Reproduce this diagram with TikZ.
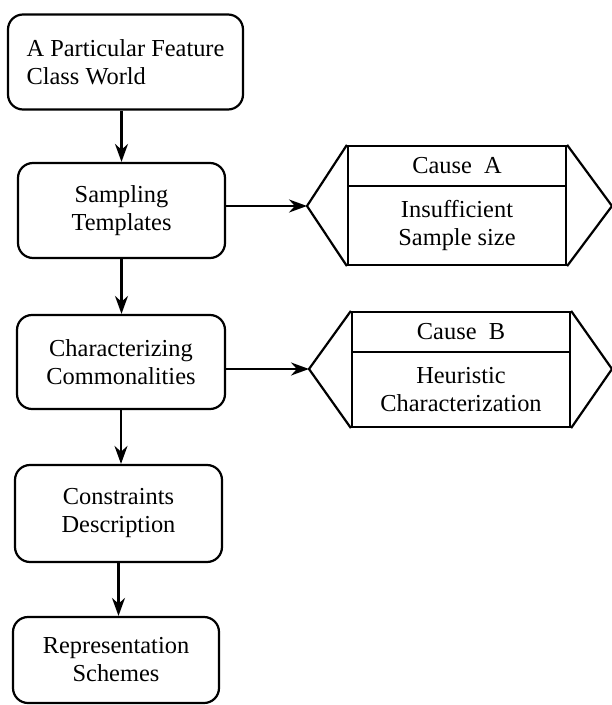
\documentclass[tikz,border=0pt]{standalone}
\usepackage{fontspec}
\setmainfont{Liberation Serif}
\usetikzlibrary{arrows.meta}
\tikzset{
  stepbox/.style={draw, line width=1.1pt, rounded corners=7.5pt, align=center,
    font=\fontsize{12.2}{14}\selectfont},
  causebox/.style={draw, line width=1.1pt, minimum width=109pt, inner sep=0pt,
    align=center, font=\fontsize{12.2}{14}\selectfont},
}
\begin{document}
\begin{tikzpicture}[x=0.5pt, y=-0.5pt]
      \useasboundingbox (0,0) rectangle (611,705);
      \draw
        (125.5,62) node[stepbox, minimum width=117.5pt, minimum height=47.5pt, align=left] (world){A Particular Feature\\Class World}
        (121.5,210.5) node[stepbox, minimum width=103.5pt, minimum height=47.5pt] (sampling){Sampling\\Templates}
        (121,362) node[stepbox, minimum width=104pt, minimum height=47pt] (common){Characterizing\\Commonalities}
        (118.5,513.5) node[stepbox, minimum width=103.5pt, minimum height=48.5pt] (constraints){Constraints\\Description}
        (116,660) node[stepbox, minimum width=103pt, minimum height=43pt] (repr){Representation\\Schemes};
      % cause A
      \draw
        (457,166) node[causebox, minimum height=20pt] (causeA){Cause\ \ A}
        (457,225.5) node[causebox, minimum height=39.5pt] (reasonA){Insufficient\\Sample size};
      \coordinate (tipA) at (307,206);
      \coordinate (endA) at (612,206);
      \draw[line width=1.1pt] (causeA.north west) -- (tipA) -- (reasonA.south west);
      \draw[line width=1.1pt] (causeA.north east) -- (endA) -- (reasonA.south east);
      % cause B
      \draw
        (461,332) node[causebox, minimum height=20pt] (causeB){Cause\ \ B}
        (461,389.5) node[causebox, minimum height=37.5pt] (reasonB){Heuristic\\Characterization};
      \coordinate (tipB) at (309,369);
      \coordinate (endB) at (612,369);
      \draw[line width=1.1pt] (causeB.north west) -- (tipB) -- (reasonB.south west);
      \draw[line width=1.1pt] (causeB.north east) -- (endB) -- (reasonB.south east);
      \begin{scope}[line width=1.1pt, -{Stealth[length=9pt, width=6.5pt]}]
        \draw (world.south -| sampling.north) to (sampling.north);
        \draw (sampling.south) to (sampling.south |- common.north);
        \draw (common.south) to (common.south |- constraints.north);
        \draw (constraints.south) to (constraints.south |- repr.north);
        \draw (sampling.east |- tipA) to (tipA);
        \draw (common.east |- tipB) to (tipB);
      \end{scope}
    \end{tikzpicture}
\end{document}
